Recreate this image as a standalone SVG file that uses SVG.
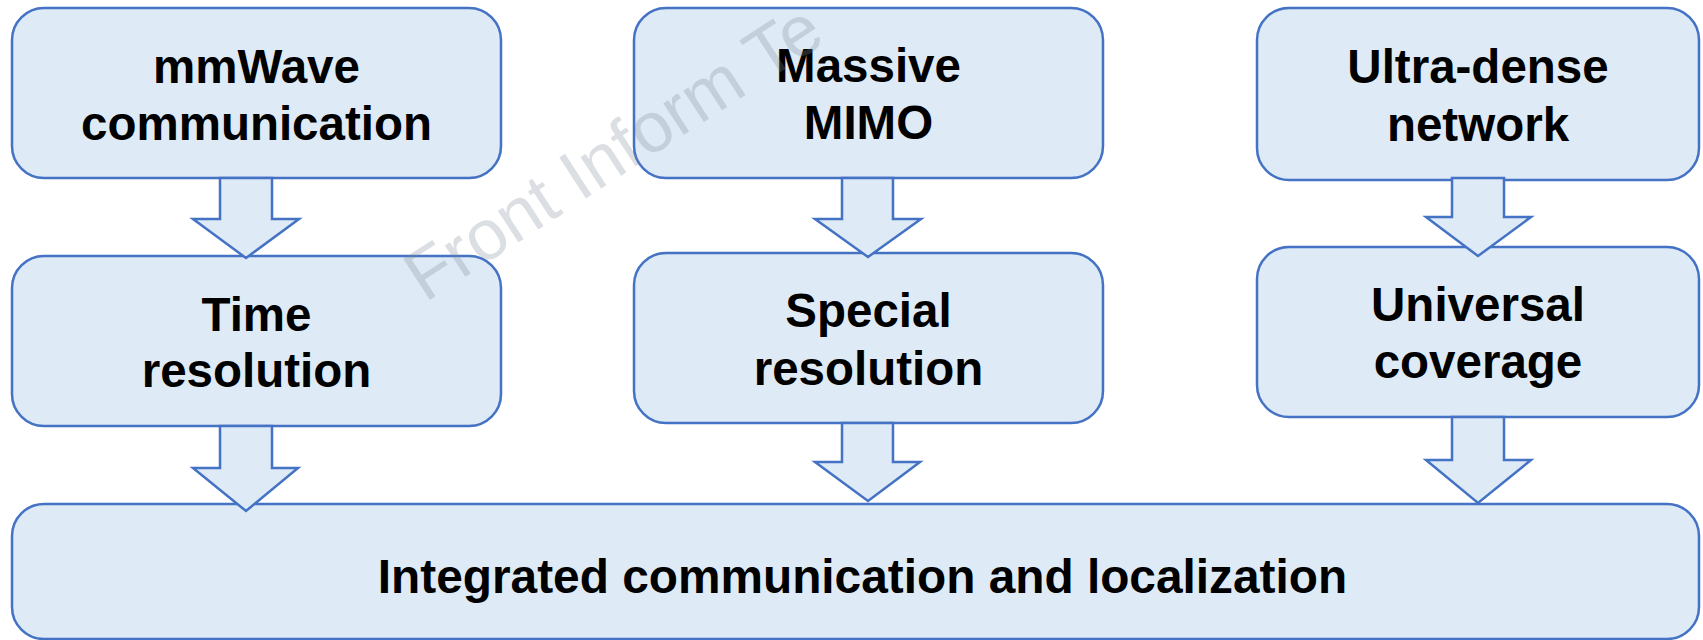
<svg xmlns="http://www.w3.org/2000/svg" width="1703" height="640" viewBox="0 0 1703 640">
  <style>
    .box { fill: #DEEAF6; stroke: #4472C4; stroke-width: 2.5; }
    .arrow { fill: #DEEAF6; stroke: #4472C4; stroke-width: 2.5; stroke-linejoin: miter; }
    .label { font-family: "Liberation Sans", Arial, sans-serif; font-weight: bold; font-size: 47.5px; fill: #000; text-anchor: middle; }
    .wm { font-family: "Liberation Sans", Arial, sans-serif; font-size: 71px; fill: #7f8a96; fill-opacity: 0.28; }
  </style>

  <rect width="1703" height="640" fill="#ffffff"/>

  <!-- top row -->
  <g id="node-mmwave">
    <rect class="box" x="12" y="8" width="489" height="170" rx="32"/>
    <text class="label" x="256.5" y="83">mmWave</text>
    <text class="label" x="256.5" y="140">communication</text>
  </g>
  <g id="node-massive-mimo">
    <rect class="box" x="634" y="8" width="469" height="170" rx="32"/>
    <text class="label" x="868.5" y="82">Massive</text>
    <text class="label" x="868.5" y="139">MIMO</text>
  </g>
  <g id="node-ultra-dense">
    <rect class="box" x="1257" y="8" width="442" height="172" rx="32"/>
    <text class="label" x="1478" y="83">Ultra-dense</text>
    <text class="label" x="1478" y="141">network</text>
  </g>

  <!-- middle row -->
  <g id="node-time-resolution">
    <rect class="box" x="12" y="256" width="489" height="170" rx="32"/>
    <text class="label" x="256.5" y="331">Time</text>
    <text class="label" x="256.5" y="387">resolution</text>
  </g>
  <g id="node-special-resolution">
    <rect class="box" x="634" y="253" width="469" height="170" rx="32"/>
    <text class="label" x="868.5" y="327">Special</text>
    <text class="label" x="868.5" y="385">resolution</text>
  </g>
  <g id="node-universal-coverage">
    <rect class="box" x="1257" y="247" width="442" height="170" rx="32"/>
    <text class="label" x="1478" y="321">Universal</text>
    <text class="label" x="1478" y="378">coverage</text>
  </g>

  <!-- bottom row -->
  <g id="node-integrated">
    <rect class="box" x="12" y="504" width="1687" height="135" rx="32"/>
    <text class="label" x="862.5" y="593" style="font-size:47.8px">Integrated communication and localization</text>
  </g>

  <!-- block arrows -->
  <g id="connectors">
    <polygon class="arrow" points="220,178 272,178 272,219 299,219 246,258 193,219 220,219"/>
    <polygon class="arrow" points="220,426 272,426 272,468 298,468 246,511 193,468 220,468"/>
    <polygon class="arrow" points="842,178 893,178 893,219 921,219 868,257 815,219 842,219"/>
    <polygon class="arrow" points="842,423 893,423 893,462 920,462 868,501 815,462 842,462"/>
    <polygon class="arrow" points="1452,178 1504,178 1504,217 1531,217 1478,256 1426,217 1452,217"/>
    <polygon class="arrow" points="1452,417 1504,417 1504,460 1531,460 1478,503 1426,460 1452,460"/>
  </g>

  <!-- diagonal watermark -->
  <text class="wm" transform="translate(425,303) rotate(-33)">Front Inform Te</text>
</svg>
